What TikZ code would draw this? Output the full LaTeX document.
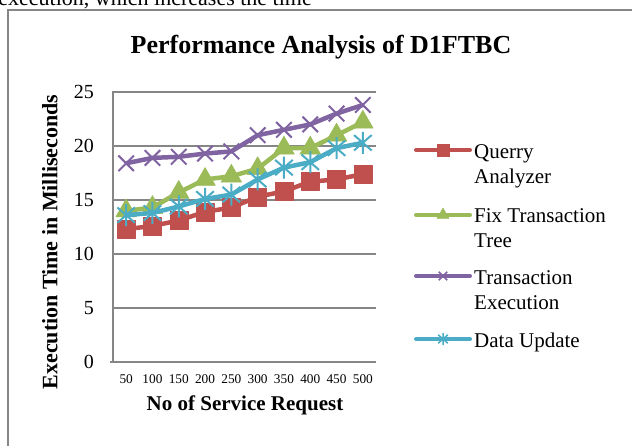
\documentclass[tikz,border=0pt]{standalone}
\usepackage{fontspec}
\setmainfont{Liberation Serif}
\usetikzlibrary{plotmarks}
\definecolor{qred}{HTML}{C0504D}
\definecolor{fgreen}{HTML}{9BBB59}
\definecolor{tpurple}{HTML}{8064A2}
\definecolor{dcyan}{HTML}{4BACC6}
\definecolor{gridgray}{HTML}{868686}
\pgfdeclareplotmark{xstar}{%
  \pgfpathmoveto{\pgfqpoint{0pt}{\pgfplotmarksize}}%
  \pgfpathlineto{\pgfqpoint{0pt}{-\pgfplotmarksize}}%
  \pgfpathmoveto{\pgfqpoint{-0.8\pgfplotmarksize}{-0.7\pgfplotmarksize}}%
  \pgfpathlineto{\pgfqpoint{0.8\pgfplotmarksize}{0.7\pgfplotmarksize}}%
  \pgfpathmoveto{\pgfqpoint{-0.8\pgfplotmarksize}{0.7\pgfplotmarksize}}%
  \pgfpathlineto{\pgfqpoint{0.8\pgfplotmarksize}{-0.7\pgfplotmarksize}}%
  \pgfusepathqstroke}
\tikzset{
  series/.style={line width=4.5pt, line join=round},
  legline/.style={line width=4pt, line cap=round},
  ticklab/.style={font=\fontsize{20}{22}\selectfont, anchor=east, inner sep=0pt},
  xticklab/.style={font=\fontsize{13.3}{15}\selectfont, inner sep=0pt},
  legtext/.style={font=\fontsize{21}{24}\selectfont, anchor=base west, inner sep=0pt},
  gridline/.style={gridgray, line width=1.2pt},
}
\begin{document}
\begin{tikzpicture}[x=1pt,y=-1pt]
\useasboundingbox (0,0) rectangle (632,445);
\clip (0,0) rectangle (632,445);
% cropped text above
\node[font=\fontsize{22}{24}\selectfont, anchor=base east, inner sep=0pt] (toptext) at (312,5) {execution, which increases the time};
% frame
\draw[gridgray, line width=1.3pt] (8,446) -- (8,10) -- (633,10);
% title
\node[font=\bfseries\fontsize{26}{28}\selectfont] (title) at (321,47) {Performance Analysis of D1FTBC};
% grid
\foreach \v in {5,10,15,20,25}{
  \draw[gridline] (113,{362-10.8*\v}) -- (376,{362-10.8*\v});
}
\draw[gridline] (113,91) -- (113,362) -- (376,362);
\draw[gridline] (110,362) -- (113,362);
% tick labels
\foreach \v in {0,5,10,15,20,25}{
  \node[ticklab] (yt\v) at (94,{362-10.8*\v}) {\v};
}
\foreach \n [count=\i] in {50,100,150,200,250,300,350,400,450,500}{
  \node[xticklab] (xt\i) at ({113+26.3*(\i-0.5)},379) {\n};
}
% axis titles
\node[font=\bfseries\fontsize{21}{23}\selectfont] (xtitle) at (245,405) {No of Service Request};
\node[font=\bfseries\fontsize{22}{24}\selectfont, rotate=90] (ytitle) at (50,242) {Execution Time in Milliseconds};
% data
\begin{scope}[shift={(113,362)}, x=26.3pt, y=10.8pt]
\draw[series, qred] plot[mark=square*, mark size=9pt, mark options={fill=qred, draw=qred, line width=0.5pt}] coordinates
  {(0.5,12.3) (1.5,12.6) (2.5,13.1) (3.5,13.9) (4.5,14.3) (5.5,15.3) (6.5,15.8) (7.5,16.7) (8.5,16.9) (9.5,17.4)};
\draw[series, fgreen] plot[mark=triangle*, mark size=12pt, mark options={fill=fgreen, draw=fgreen, line width=0.5pt}] coordinates
  {(0.5,14.0) (1.5,14.3) (2.5,15.7) (3.5,16.9) (4.5,17.2) (5.5,17.9) (6.5,19.8) (7.5,19.8) (8.5,21.0) (9.5,22.2)};
\draw[series, tpurple] plot[mark=x, mark size=11pt, mark options={draw=tpurple, line width=2pt}] coordinates
  {(0.5,18.4) (1.5,18.9) (2.5,19.0) (3.5,19.3) (4.5,19.5) (5.5,21.0) (6.5,21.5) (7.5,22.0) (8.5,23.0) (9.5,23.8)};
\draw[series, dcyan] plot[mark=xstar, mark size=11pt, mark options={draw=dcyan, line width=2pt}] coordinates
  {(0.5,13.6) (1.5,13.8) (2.5,14.4) (3.5,15.1) (4.5,15.5) (5.5,16.9) (6.5,18.0) (7.5,18.5) (8.5,19.8) (9.5,20.3)};
\end{scope}
% legend
\coordinate (la1) at (416,150); \coordinate (lb1) at (470,150);
\coordinate (la2) at (416,215); \coordinate (lb2) at (470,215);
\coordinate (la3) at (416,276); \coordinate (lb3) at (470,276);
\coordinate (la4) at (416,339); \coordinate (lb4) at (470,339);
\draw[legline, qred] (la1) -- (lb1);
\path plot[mark=square*, mark size=6pt, mark options={fill=qred, draw=qred}] coordinates {(443,150)};
\draw[legline, fgreen] (la2) -- (lb2);
\path plot[mark=triangle*, mark size=7pt, mark options={fill=fgreen, draw=fgreen}] coordinates {(443,215)};
\draw[legline, tpurple] (la3) -- (lb3);
\path plot[mark=x, mark size=6pt, mark options={draw=tpurple, line width=1.5pt}] coordinates {(443,276)};
\draw[legline, dcyan] (la4) -- (lb4);
\path plot[mark=xstar, mark size=6pt, mark options={draw=dcyan, line width=1.5pt}] coordinates {(443,339)};
\node[legtext] (l1a) at (474,158) {Querry};
\node[legtext] (l1b) at (474,183) {Analyzer};
\node[legtext] (l2a) at (474,222) {Fix Transaction};
\node[legtext] (l2b) at (474,247) {Tree};
\node[legtext] (l3a) at (474,284) {Transaction};
\node[legtext] (l3b) at (474,309) {Execution};
\node[legtext] (l4a) at (474,347) {Data Update};
\end{tikzpicture}
\end{document}
